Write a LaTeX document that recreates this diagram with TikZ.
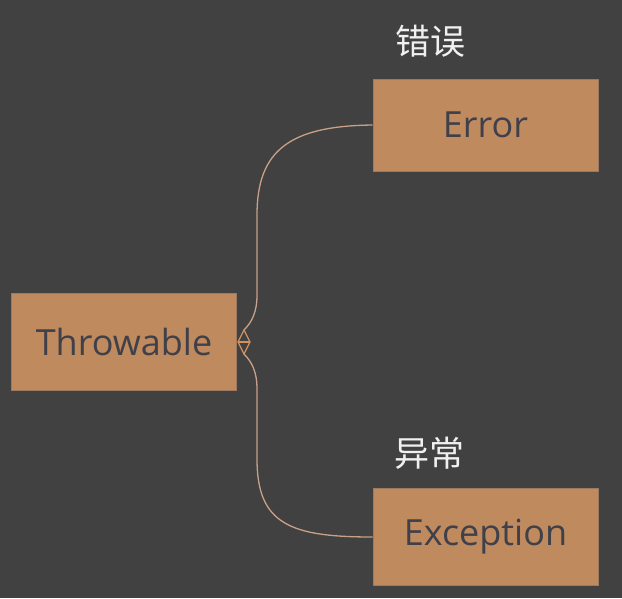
\documentclass[tikz,border=0pt]{standalone}
\usepackage{fontspec}
\usetikzlibrary{calc}
\setmainfont{Open Sans}
\newfontfamily\cjk{Noto Sans CJK SC}
\definecolor{bg}{HTML}{414141}
\definecolor{boxfill}{HTML}{BF8A5E}
\definecolor{boxline}{HTML}{9C7A62}
\definecolor{boxtext}{HTML}{40404A}
\definecolor{conncol}{HTML}{C9A088}
\definecolor{tipcol}{HTML}{D09060}
\tikzset{
  cls/.style={draw=boxline, line width=1pt, fill=boxfill, minimum width=225pt, inner sep=0pt, text=boxtext, font=\fontsize{36}{42}\selectfont},
  lbl/.style={text=white!94!black, font=\cjk\fontsize{35}{40}\selectfont, inner sep=0pt},
  conn/.style={draw=conncol, line width=1.3pt},
  tip/.style={draw=tipcol, line width=1.3pt, line join=miter}
}
\begin{document}
\begin{tikzpicture}[x=1pt,y=-1pt]
\fill[bg] (0,0) rectangle (622,598);
\useasboundingbox (0,0) rectangle (622,598);
\node[cls, minimum height=97pt] (th) at (124,342) {Throwable};
\node[cls, minimum height=92pt] (er) at (485.5,125) {Error};
\node[cls, minimum height=97pt] (ex) at (485.5,537) {Exception};
\node[lbl] (l1) at (430,41) {错误};
\node[lbl] (l2) at (429,453) {异常};
\coordinate (ta) at ($(th.east)+(7,-12)$);
\coordinate (tb) at ($(th.east)+(7,12)$);
\coordinate (bl) at ($(th.east)+(1,0)$);
\coordinate (br) at ($(th.east)+(13,0)$);
\draw[conn] (ta) .. controls (252,322) and (257,312) .. (257,295)
  -- (257,215) .. controls (257,150) and (290,126) .. (er.west);
\draw[conn] (tb) .. controls (252,362) and (257,372) .. (257,389)
  -- (257,459) .. controls (257,524) and (290,537) .. (ex.west);
\draw[tip] (bl) -- (ta) -- (br) -- (tb) -- cycle;
\draw[tip] (bl) -- (br);
\end{tikzpicture}
\end{document}
